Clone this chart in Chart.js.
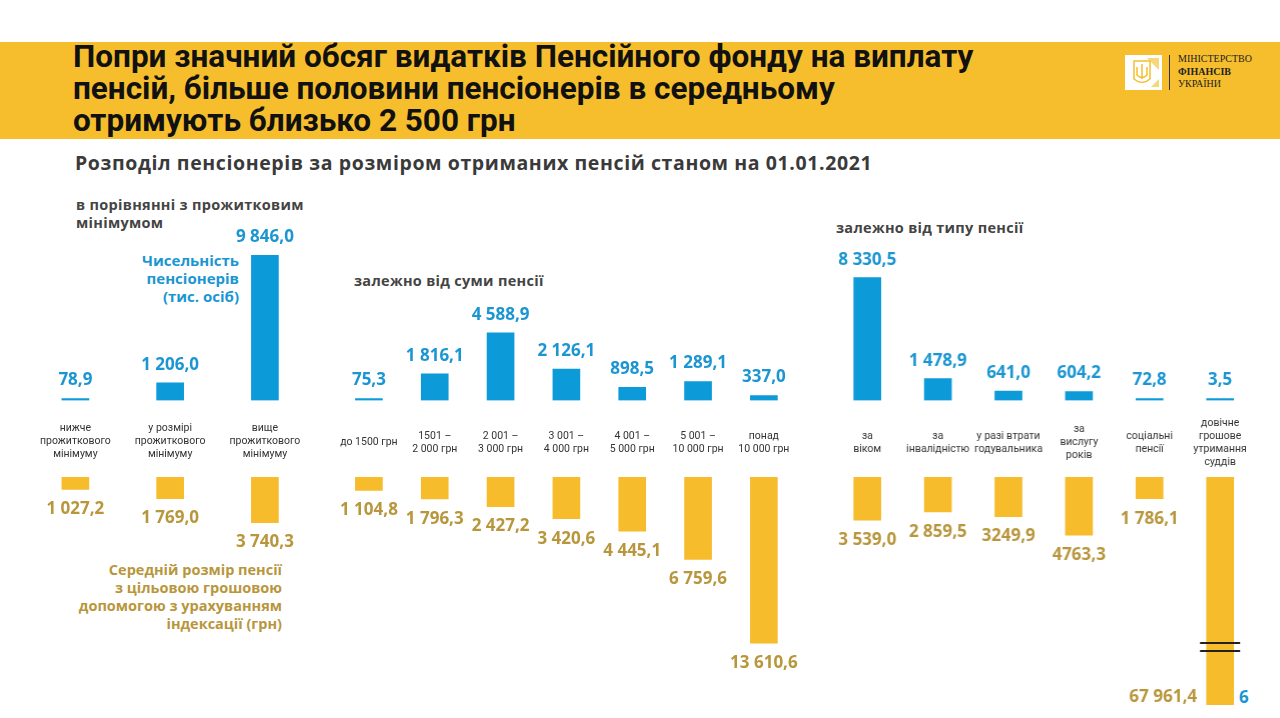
<!DOCTYPE html>
<html lang="uk">
<head>
<meta charset="utf-8">
<script src="https://cdn.jsdelivr.net/npm/chart.js@4.4.1/dist/chart.umd.min.js"></script>
<style>
  html, body { margin: 0; padding: 0; background: #fff; width: 1280px; height: 718px; overflow: hidden; }
  .abs { position: absolute; }
  #band { left: 0; top: 42px; width: 1280px; height: 97px; background: #F6BE2C; }
  #title { left: 73px; top: 41px; font: 700 31.5px/32px Roboto, sans-serif; color: #111; white-space: nowrap; }
  #subtitle { left: 75px; top: 152px; font: 700 19.5px/22px "Open Sans", sans-serif; letter-spacing: 0.6px; color: #3a3a3a; white-space: nowrap; }
  .ghead { font: 700 14.5px/18px "Open Sans", sans-serif; letter-spacing: 0.3px; color: #444; white-space: nowrap; }
  #blueNote { left: 90px; top: 251px; width: 149px; text-align: right; font: 700 15px/18px "Open Sans", sans-serif; color: #1B96D2; }
  #goldNote { left: 40px; top: 561px; width: 242px; text-align: right; font: 700 14.5px/18px "Open Sans", sans-serif; color: #B8963C; }
  #page { left: 1239px; top: 686px; font: 700 17px/22px "Open Sans", sans-serif; color: #1B96D2; }
  #logoBox { left: 1125px; top: 55px; width: 37px; height: 35px; background: #fff; }
  #logoLine { left: 1169px; top: 55px; width: 1px; height: 35px; background: #333; }
  #logoText { left: 1178px; top: 53px; font: 10px/12.5px "Liberation Serif", serif; color: #222; }
  .box { position: absolute; }
</style>
</head>
<body>
<div id="band" class="abs"></div>
<div id="title" class="abs">Попри значний обсяг видатків Пенсійного фонду на виплату<br>пенсій, більше половини пенсіонерів в середньому<br>отримують близько 2 500 грн</div>
<div id="logoBox" class="abs">
  <svg width="37" height="35" viewBox="0 0 37 35">
    <path d="M22 3 L34 3 L34 15 Z M26 32 L34 24 L34 32 Z" fill="#F6D77A"/>
    <path d="M9 6 L25 6 L25 24 Q17 31 9 24 Z" fill="none" stroke="#F6BE2C" stroke-width="1.5"/>
    <path d="M17 9 L17 24 M12 12 L12 20 Q17 25 22 20 L22 12" fill="none" stroke="#F6BE2C" stroke-width="1.5"/>
  </svg>
</div>
<div id="logoLine" class="abs"></div>
<div id="logoText" class="abs">МІНІСТЕРСТВО<br><b>ФІНАНСІВ</b><br>УКРАЇНИ</div>
<div id="subtitle" class="abs">Розподіл пенсіонерів за розміром отриманих пенсій станом на 01.01.2021</div>
<div class="abs ghead" style="left:76px;top:196px">в порівнянні з прожитковим<br>мінімумом</div>
<div class="abs ghead" style="left:354px;top:272px">залежно від суми пенсії</div>
<div class="abs ghead" style="left:836px;top:219px">залежно від типу пенсії</div>
<div id="blueNote" class="abs">Чисельність<br>пенсіонерів<br>(тис. осіб)</div>
<div id="goldNote" class="abs">Середній розмір пенсії<br>з цільовою грошовою<br>допомогою з урахуванням<br>індексації (грн)</div>
<div id="page" class="abs">6</div>

<script>
// --- data (тис. осіб / грн) ---
const minLabels = [['нижче', 'прожиткового', 'мінімуму'], ['у розмірі', 'прожиткового', 'мінімуму'], ['вище', 'прожиткового', 'мінімуму']];
const minCount = [78.9, 1206.0, 9846.0];
const minAvg = [1027.2, 1769.0, 3740.3];

const sumLabels = ['до 1500 грн', ['1501 –', '2 000 грн'], ['2 001 –', '3 000 грн'], ['3 001 –', '4 000 грн'], ['4 001 –', '5 000 грн'], ['5 001 –', '10 000 грн'], ['понад', '10 000 грн']];
const sumCount = [75.3, 1816.1, 4588.9, 2126.1, 898.5, 1289.1, 337.0];
const sumAvg = [1104.8, 1796.3, 2427.2, 3420.6, 4445.1, 6759.6, 13610.6];

const typeLabels = [['за', 'віком'], ['за', 'інвалідністю'], ['у разі втрати', 'годувальника'], ['за', 'вислугу', 'років'], ['соціальні', 'пенсії'], ['довічне', 'грошове', 'утримання', 'суддів']];
const typeCount = [8330.5, 1478.9, 641.0, 604.2, 72.8, 3.5];
const typeAvg = [3539.0, 2859.5, 3249.9, 4763.3, 1786.1, 67961.4];
const typeAvgText = ['3 539,0', '2 859,5', '3249,9', '4763,3', '1 786,1', '67 961,4'];

const BLUE = '#0C9AD9', BLUE_TXT = '#1B96D2', GOLD = '#F6BC2C', GOLD_TXT = '#B8963C';
const PAD = 40;           // room for labels at the sides
const TOP_MAX = 12245;    // blue scale: ~0.01474 px per 1 тис.
const BOT_MAX = 18689;    // gold scale: ~0.0122 px per 1 грн

const fmt = v => v.toFixed(1).replace('.', ',').replace(/\B(?=(\d{3})+(?!\d))/g, ' ');

const valueLabels = {
  id: 'valueLabels',
  afterDatasetsDraw(chart, args, o) {
    const ctx = chart.ctx, area = chart.chartArea, ds = chart.data.datasets[0];
    const texts = o.texts || ds.data.map(fmt);
    ctx.save();
    ctx.font = '700 17px "Open Sans"';
    ctx.fillStyle = o.color;
    ctx.textBaseline = 'middle';
    chart.getDatasetMeta(0).data.forEach((bar, i) => {
      ctx.textAlign = 'center';
      if (!o.below) { ctx.fillText(texts[i], bar.x, bar.y - 18); return; }
      if (ds.data[i] > chart.scales.y.max) {
        // bar goes off scale: break marks + label on the left
        ctx.textAlign = 'right';
        ctx.fillText(texts[i], bar.x - 23, area.bottom - 8);
        ctx.strokeStyle = '#222'; ctx.lineWidth = 2;
        [62, 54].forEach(d => { ctx.beginPath(); ctx.moveTo(bar.x - 20, area.bottom - d); ctx.lineTo(bar.x + 20, area.bottom - d); ctx.stroke(); });
        return;
      }
      ctx.fillText(texts[i], bar.x, bar.y + 20);
    });
    ctx.restore();
  }
};

function addCanvas(left, top, w, h) {
  const d = document.createElement('div');
  d.className = 'box';
  d.style.cssText = `left:${left}px;top:${top}px;width:${w}px;height:${h}px`;
  const c = document.createElement('canvas');
  d.appendChild(c); document.body.appendChild(d);
  return c;
}

function makeGroup(g) {
  const left = g.left - PAD, w = g.width + PAD * 2;
  new Chart(addCanvas(left, 220, w, 250), {
    type: 'bar',
    data: { labels: g.labels, datasets: [{ data: g.count, backgroundColor: BLUE, barThickness: 27, minBarLength: 2 }] },
    options: {
      responsive: true, maintainAspectRatio: false, animation: false,
      layout: { padding: { left: PAD, right: PAD, top: 0, bottom: 0 } },
      plugins: { legend: { display: false }, tooltip: { enabled: false }, valueLabels: { color: BLUE_TXT } },
      scales: {
        x: {
          grid: { display: false, drawTicks: false }, border: { display: false },
          ticks: { autoSkip: false, maxRotation: 0, minRotation: 0, crossAlign: 'center', padding: g.pad, color: '#333',
                   font: { family: 'Roboto', size: 10.5, lineHeight: '13px' } },
          afterFit: s => { s.height = 69.5; }
        },
        y: { display: false, min: 0, max: TOP_MAX }
      }
    },
    plugins: [valueLabels]
  });
  new Chart(addCanvas(left, 477, w, 241), {
    type: 'bar',
    data: { labels: g.labels, datasets: [{ data: g.avg, backgroundColor: GOLD, barThickness: 27, clip: 0 }] },
    options: {
      responsive: true, maintainAspectRatio: false, animation: false,
      layout: { padding: { left: PAD, right: PAD, top: 0, bottom: 13 } },
      plugins: { legend: { display: false }, tooltip: { enabled: false }, valueLabels: { color: GOLD_TXT, below: true, texts: g.avgText } },
      scales: {
        x: { display: false },
        y: { display: false, reverse: true, min: 0, max: BOT_MAX }
      }
    },
    plugins: [valueLabels]
  });
}

makeGroup({ left: 27.6, width: 284.3, labels: minLabels, count: minCount, avg: minAvg, pad: 27.5 });
makeGroup({ left: 335.6, width: 460.8, labels: sumLabels, count: sumCount, avg: sumAvg, pad: 35.5 });
makeGroup({ left: 832.3, width: 422.4, labels: typeLabels, count: typeCount, avg: typeAvg, avgText: typeAvgText, pad: 22.5 });
</script>
</body>
</html>
